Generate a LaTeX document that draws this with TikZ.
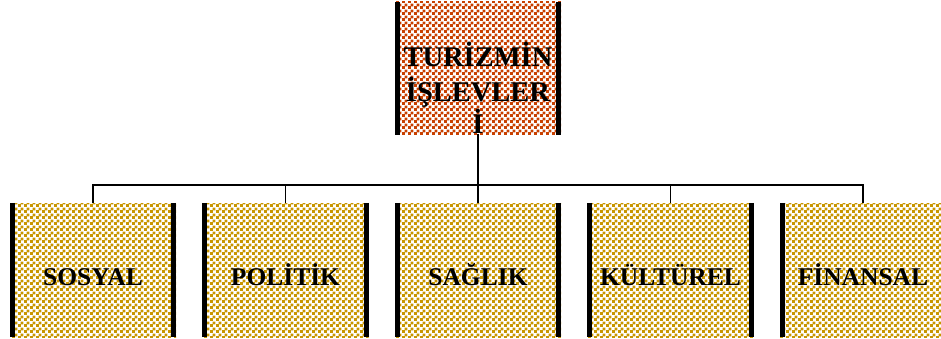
\documentclass[tikz,border=0pt]{standalone}
\usepackage{fontspec}
\setmainfont{Liberation Serif}
\usetikzlibrary{patterns}
\pgfdeclarepatternformonly{checkerthree}{\pgfpointorigin}{\pgfqpoint{6pt}{6pt}}{\pgfqpoint{6pt}{6pt}}{%
  \pgfpathrectangle{\pgfpointorigin}{\pgfqpoint{3.3pt}{3.3pt}}%
  \pgfpathrectangle{\pgfqpoint{3pt}{3pt}}{\pgfqpoint{3.3pt}{3.3pt}}%
  \pgfusepath{fill}}
\definecolor{topcol}{HTML}{C84000}
\definecolor{subcol}{HTML}{C89600}
\tikzset{
  topbox/.style={draw=none, fill=white, pattern=checkerthree, pattern color=topcol, minimum width=166pt, minimum height=133pt, inner sep=0pt},
  subbox/.style={draw=none, fill=white, pattern=checkerthree, pattern color=subcol, minimum width=166pt, minimum height=134pt, inner sep=0pt},
  bar/.style={line width=5pt, black},
  conn/.style={line width=1.6pt, black},
  toptext/.style={font=\fontsize{28.5}{35}\selectfont\bfseries, inner sep=0pt, anchor=base},
  subtext/.style={font=\fontsize{25.5}{30}\selectfont\bfseries, inner sep=0pt, anchor=base}
}
\begin{document}
\begin{tikzpicture}[x=1pt,y=-1pt]
\useasboundingbox (0,0) rectangle (941,339);
\fill[white] (0,0) rectangle (941,339);
% top box
\node[topbox] (top) at (478,68.5) {};
\draw[bar] ([xshift=2.5pt]top.north west) -- ([xshift=2.5pt]top.south west);
\draw[bar] ([xshift=-2.5pt]top.north east) -- ([xshift=-2.5pt]top.south east);
\node[toptext] (t1) at (478,67) {TURİZMİN};
\node[toptext] (t2) at (478,102) {İŞLEVLER};
\node[toptext] (t3) at (478,134) {İ};
% sub boxes
\foreach \i/\cx/\name/\txt in {1/93/b1/SOSYAL, 2/285.5/b2/POLİTİK, 3/478/b3/SAĞLIK, 4/670.5/b4/KÜLTÜREL, 5/863/b5/FİNANSAL}{
  \node[subbox] (\name) at (\cx,270) {};
  \draw[bar] ([xshift=2.5pt]\name.north west) -- ([xshift=2.5pt]\name.south west);
  \draw[bar] ([xshift=-2.5pt]\name.north east) -- ([xshift=-2.5pt]\name.south east);
  \node[subtext] (l\i) at (\cx,285) {\txt};
}
% connectors
\coordinate (bus) at (478,185);
\draw[conn] (t3.south) -- (bus);
\foreach \name in {b1,b2,b3,b4,b5}{
  \draw[conn] (bus) -| (\name.north);
}
\end{tikzpicture}
\end{document}
